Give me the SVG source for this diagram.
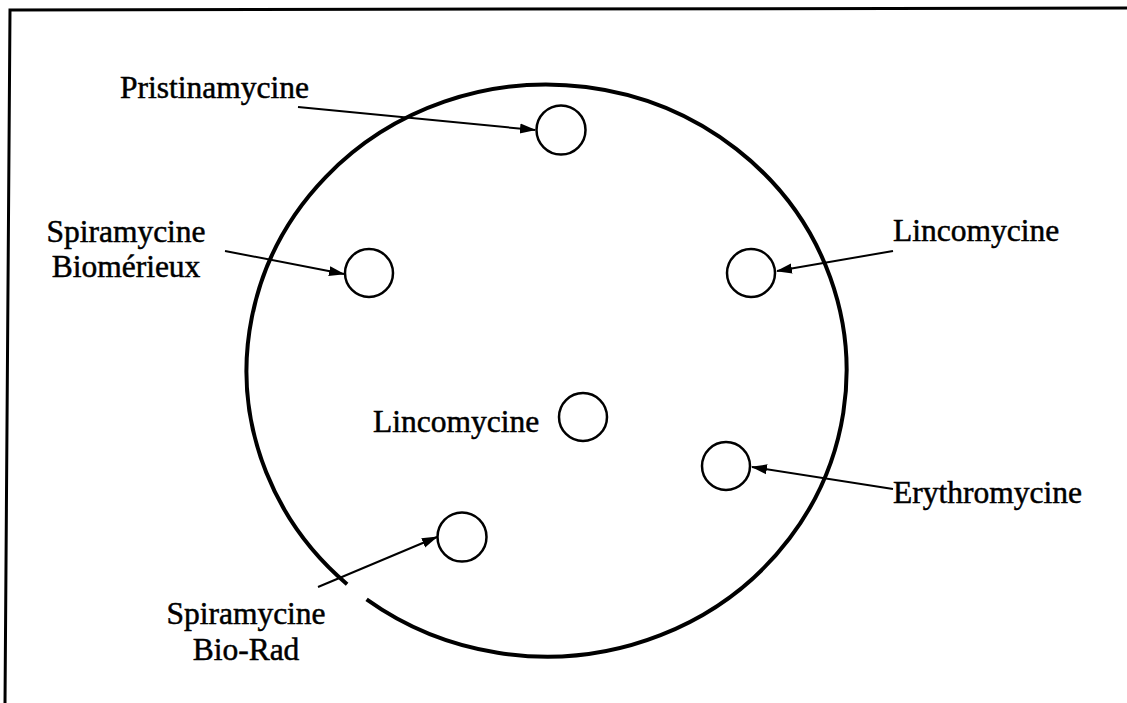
<svg xmlns="http://www.w3.org/2000/svg" width="1127" height="703" viewBox="0 0 1127 703">
  <style>
    .lbl { font-family: "Liberation Serif", "Times New Roman", serif; font-size: 31.5px; fill: #000; stroke: #000; stroke-width: 0.5px; }
    .well { fill: #fff; stroke: #000; stroke-width: 2.5; }
    .conn { stroke: #000; stroke-width: 2; fill: none; marker-end: url(#ah); }
  </style>
  <defs>
    <marker id="ah" markerWidth="16" markerHeight="12" refX="15" refY="6" orient="auto" markerUnits="userSpaceOnUse">
      <path d="M0,1 L16,6 L0,11 z" fill="#000"/>
    </marker>
  </defs>
  <rect width="1127" height="703" fill="#fff"/>
  <g id="frame">
    <path d="M 5 703 L 10 10 L 1127 8" fill="none" stroke="#000" stroke-width="3"/>
  </g>
  <g id="plate">
    <path d="M 366.6 599.4 A 300 286 0 1 0 347.1 584.2" fill="none" stroke="#000" stroke-width="4"/>
  </g>
  <g id="connectors">
    <line class="conn" x1="298" y1="107" x2="535" y2="130"/>
    <line class="conn" x1="225" y1="251" x2="344" y2="274"/>
    <line class="conn" x1="893" y1="251" x2="777" y2="271"/>
    <line class="conn" x1="893" y1="489" x2="752" y2="467"/>
    <line class="conn" x1="318" y1="587" x2="437" y2="537"/>
  </g>
  <g id="pristinamycine">
    <circle class="well" cx="561" cy="130" r="24.5"/>
    <text class="lbl" x="120" y="98">Pristinamycine</text>
  </g>
  <g id="spiramycine-biomerieux">
    <circle class="well" cx="369" cy="273" r="24"/>
    <text class="lbl" x="126" y="242" text-anchor="middle">Spiramycine</text>
    <text class="lbl" x="126" y="277" text-anchor="middle">Biomérieux</text>
  </g>
  <g id="lincomycine-right">
    <circle class="well" cx="751" cy="273" r="24"/>
    <text class="lbl" x="893" y="241">Lincomycine</text>
  </g>
  <g id="lincomycine-center">
    <circle class="well" cx="583" cy="417" r="24"/>
    <text class="lbl" x="373" y="432">Lincomycine</text>
  </g>
  <g id="erythromycine">
    <circle class="well" cx="726" cy="466" r="24"/>
    <text class="lbl" x="893" y="503">Erythromycine</text>
  </g>
  <g id="spiramycine-biorad">
    <circle class="well" cx="462" cy="537" r="24.5"/>
    <text class="lbl" x="246" y="624" text-anchor="middle">Spiramycine</text>
    <text class="lbl" x="246" y="660" text-anchor="middle">Bio-Rad</text>
  </g>
</svg>
